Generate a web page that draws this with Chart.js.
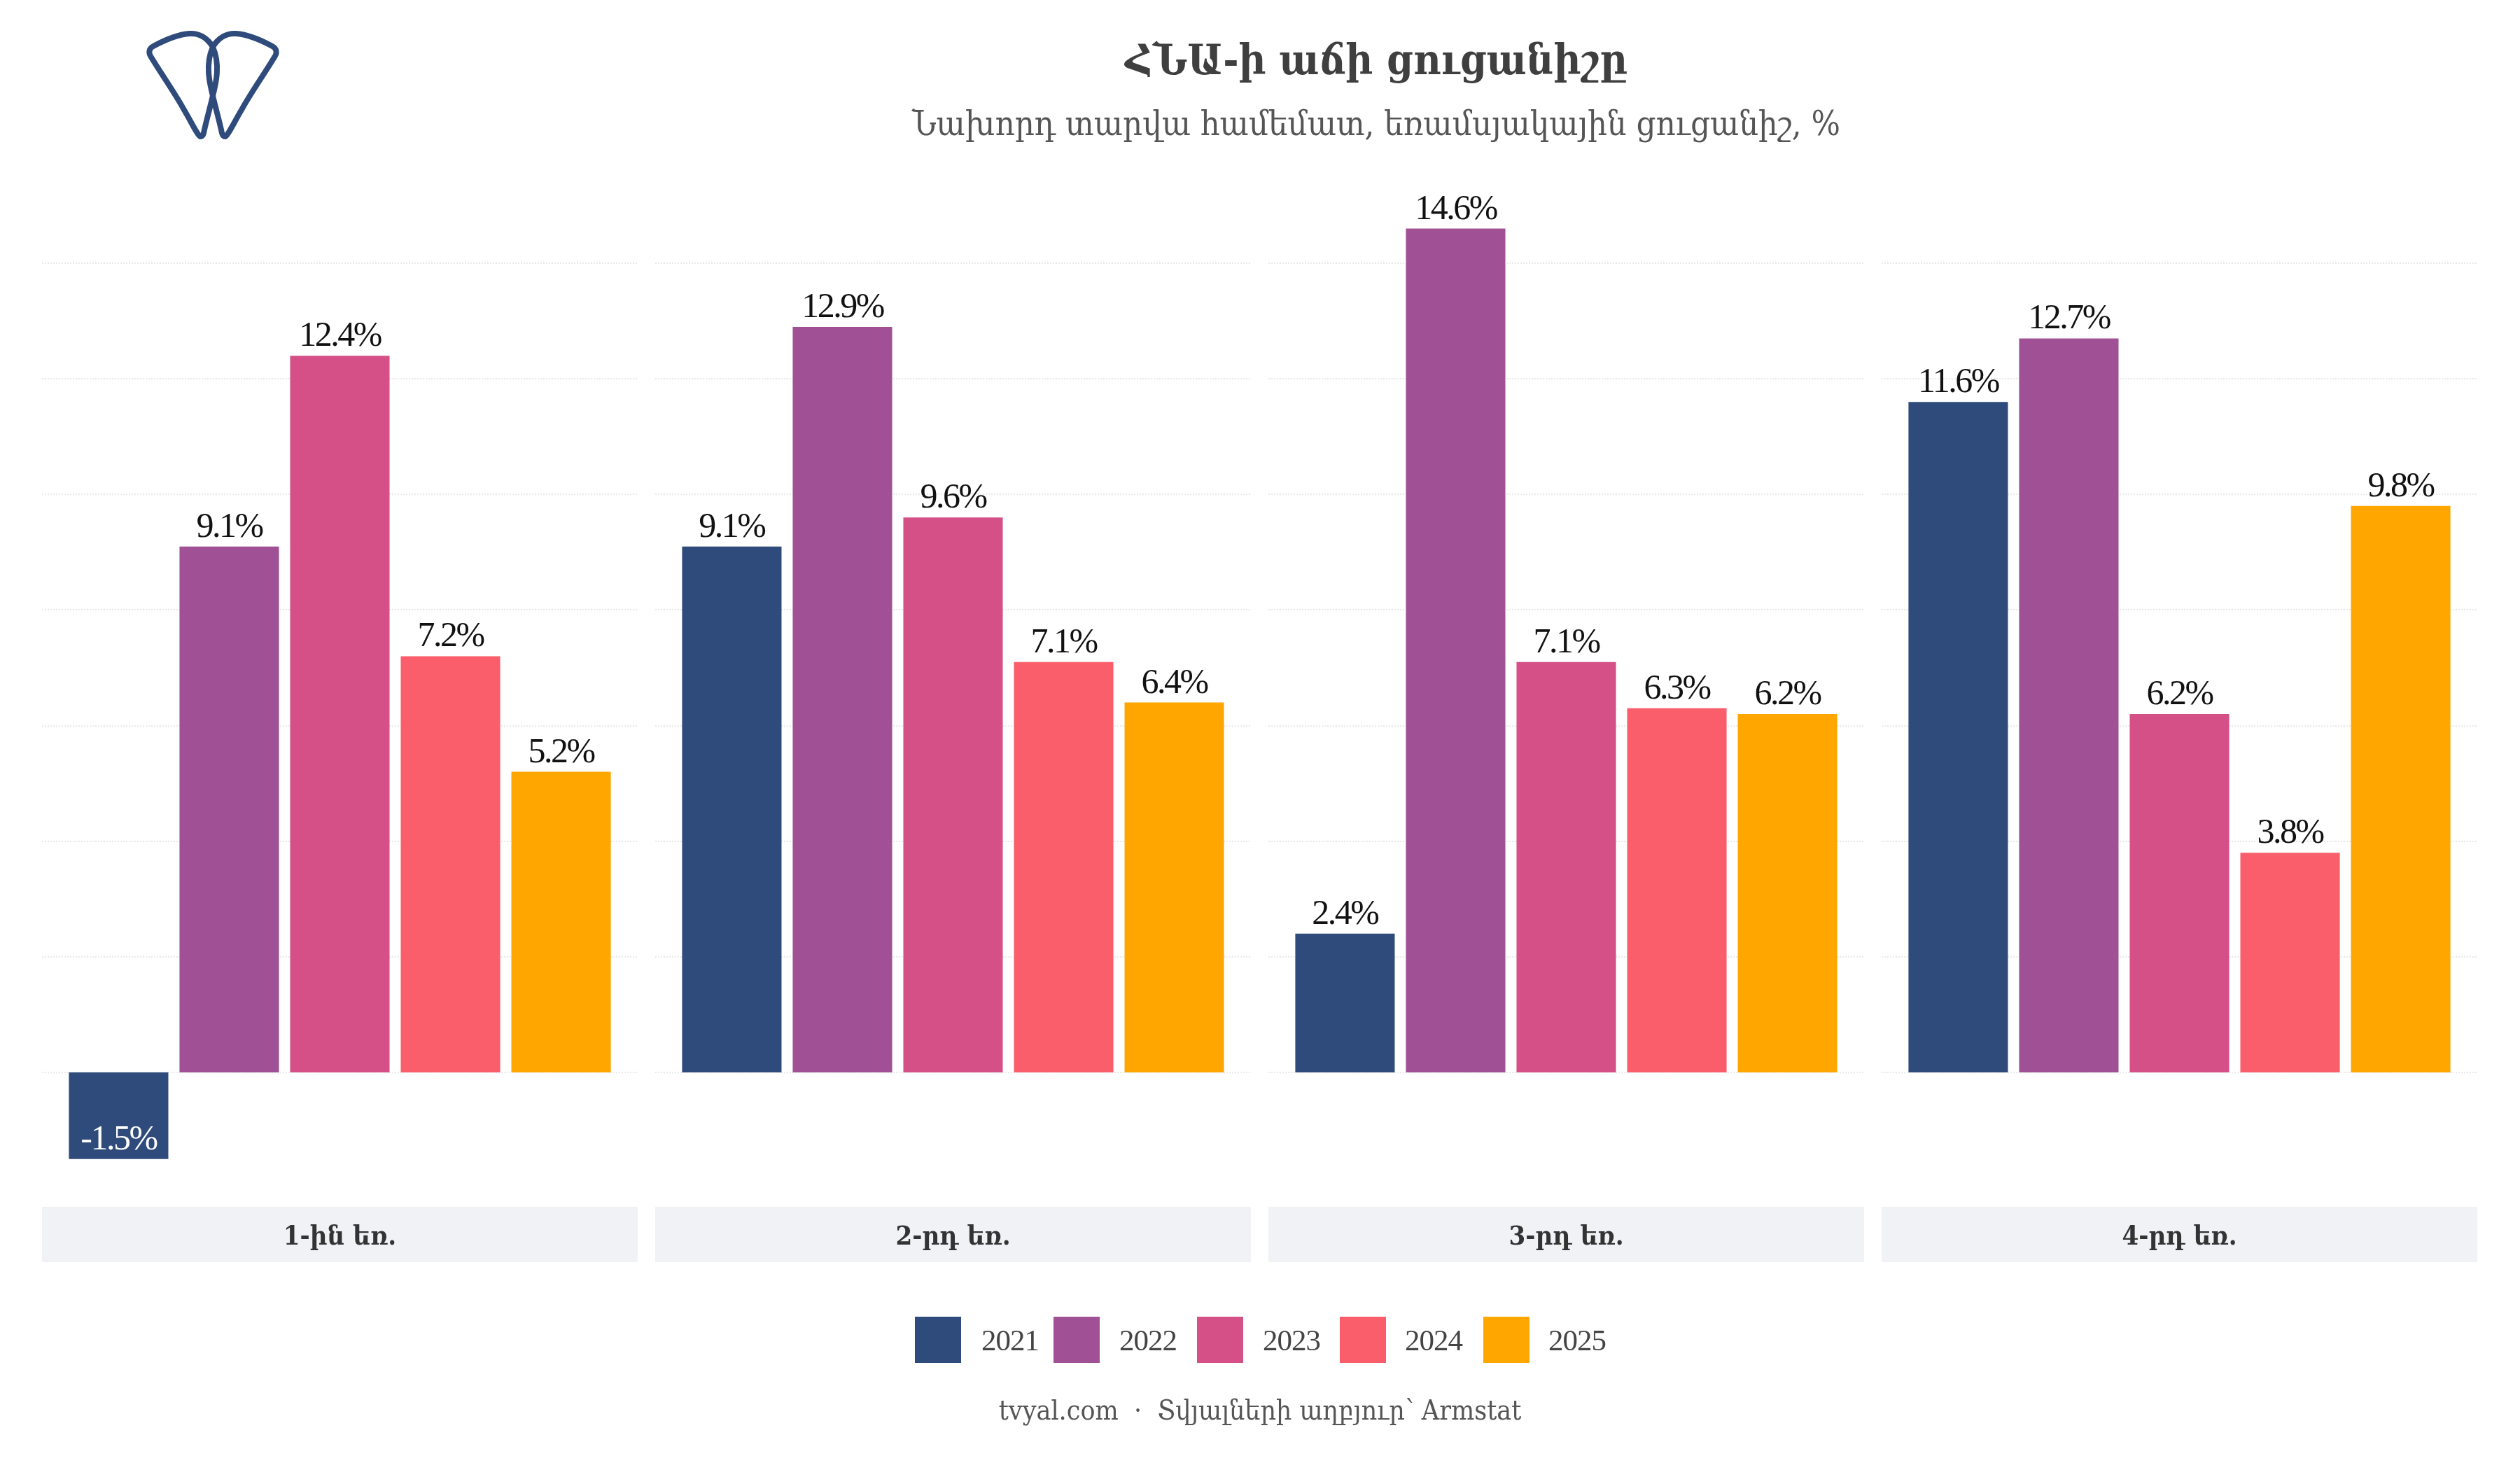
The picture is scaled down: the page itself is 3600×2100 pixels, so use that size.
<!DOCTYPE html>
<html>
<head>
<meta charset="utf-8">
<style>
  html, body { margin: 0; padding: 0; background: #fff; }
  #wrap { position: relative; width: 3600px; height: 2100px; }
  canvas { position: absolute; left: 0; top: 0; }
</style>
</head>
<body>
<div id="wrap"><canvas id="chart" width="3600" height="2100"></canvas></div>
<script src="https://cdn.jsdelivr.net/npm/chart.js@4"></script>
<script>
const quarters = ['1-ին եռ.', '2-րդ եռ.', '3-րդ եռ.', '4-րդ եռ.'];
const years = ['2021', '2022', '2023', '2024', '2025'];
const colors = ['#2f4b7c', '#a05195', '#d45087', '#fb5e6b', '#ffa600'];
const v2021 = [-1.5, 9.1, 2.4, 11.6];
const v2022 = [9.1, 12.9, 14.6, 12.7];
const v2023 = [12.4, 9.6, 7.1, 6.2];
const v2024 = [7.2, 7.1, 6.3, 3.8];
const v2025 = [5.2, 6.4, 6.2, 9.8];
const gridTicks = [0, 2, 4, 6, 8, 10, 12, 14];
const titleText = 'ՀՆԱ-ի աճի ցուցանիշը';
const subtitleText = 'Նախորդ տարվա համեմատ, եռամսյակային ցուցանիշ, %';
const captionText = 'tvyal.com  ·  Տվյալների աղբյուր՝ Armstat';

const serif = '"DejaVu Serif Condensed", "DejaVu Serif", serif';
const numFont = '"Liberation Serif", serif';
const series = [v2021, v2022, v2023, v2024, v2025];

// one dataset per year, with the quarter panels as the category axis
const datasets = years.map((y, i) => ({
  label: y,
  data: series[i],
  backgroundColor: colors[i],
  borderWidth: 0,
  categoryPercentage: 0.902,
  barPercentage: 0.899
}));

// horizontal extent of a quarter panel, taken from the category scale
function panelBounds(x, i) {
  const step = x.width / quarters.length;
  return { left: x.left + step * i + 12.5, right: x.left + step * (i + 1) - 12.5 };
}

const gridPlugin = {
  id: 'panelGrid',
  beforeDatasetsDraw(chart) {
    const { ctx, scales } = chart;
    ctx.save();
    ctx.strokeStyle = '#e8e8e8';
    ctx.lineWidth = 2;
    ctx.setLineDash([2, 2]);
    quarters.forEach((q, i) => {
      const p = panelBounds(scales.x, i);
      gridTicks.forEach(t => {
        const py = Math.round(scales.y.getPixelForValue(t));
        ctx.beginPath();
        ctx.moveTo(p.left, py);
        ctx.lineTo(p.right, py);
        ctx.stroke();
      });
    });
    ctx.restore();
  }
};

const labelsPlugin = {
  id: 'barLabels',
  afterDatasetsDraw(chart) {
    const { ctx } = chart;
    ctx.save();
    ctx.font = '50px ' + numFont;
    ctx.letterSpacing = '-2.5px';
    ctx.textAlign = 'center';
    ctx.textBaseline = 'alphabetic';
    chart.data.datasets.forEach((ds, i) => {
      chart.getDatasetMeta(i).data.forEach((bar, j) => {
        const v = ds.data[j];
        // negative bars carry their label inside, near the lower end
        ctx.fillStyle = v < 0 ? '#fff' : '#111';
        ctx.fillText(v.toFixed(1) + '%', bar.x, bar.y - 14);
      });
    });
    ctx.restore();
  }
};

function drawPetal(ctx) {
  ctx.beginPath();
  ctx.moveTo(304, 67);
  ctx.bezierCurveTo(296, 54, 284, 47, 271, 48);
  ctx.bezierCurveTo(253, 49, 232, 59, 219, 66);
  ctx.bezierCurveTo(213, 69, 212, 75, 215, 80);
  ctx.bezierCurveTo(228, 102, 250, 133, 263, 157);
  ctx.bezierCurveTo(272, 172, 279, 187, 284, 193);
  ctx.bezierCurveTo(287, 197, 290, 194, 291, 190);
  ctx.bezierCurveTo(294, 175, 299, 158, 303, 141);
  ctx.bezierCurveTo(309, 118, 315, 92, 304, 67);
  ctx.stroke();
}

const framePlugin = {
  id: 'frame',
  beforeDraw(chart) {
    const { ctx, scales } = chart;
    ctx.save();
    // strip header under each panel
    quarters.forEach((q, i) => {
      const p = panelBounds(scales.x, i);
      ctx.fillStyle = '#f1f2f6';
      ctx.fillRect(p.left, 1724, p.right - p.left, 79);
      ctx.fillStyle = '#333';
      ctx.font = 'bold 38px ' + serif;
      ctx.textAlign = 'center';
      ctx.textBaseline = 'alphabetic';
      ctx.fillText(q, (p.left + p.right) / 2, 1778);
    });
    ctx.restore();
  },
  afterDraw(chart) {
    const { ctx } = chart;
    ctx.save();
    // titles
    ctx.textAlign = 'center';
    ctx.textBaseline = 'alphabetic';
    ctx.fillStyle = '#3f3f3f';
    ctx.font = 'bold 60px ' + serif;
    ctx.fillText(titleText, 1966, 106);
    ctx.font = '48.5px ' + serif;
    ctx.fillStyle = '#555';
    ctx.fillText(subtitleText, 1966, 193);
    // legend
    const legendX = [1307, 1505, 1710, 1914, 2119];
    const legendTextX = [1402, 1599, 1804, 2007, 2212];
    years.forEach((yr, i) => {
      ctx.fillStyle = colors[i];
      ctx.fillRect(legendX[i], 1881, 66, 66);
      ctx.fillStyle = '#444';
      ctx.font = '43px ' + numFont;
      ctx.letterSpacing = '-1px';
      ctx.textAlign = 'left';
      ctx.fillText(yr, legendTextX[i], 1929);
      ctx.letterSpacing = '0px';
    });
    // caption
    ctx.font = '39px ' + serif;
    ctx.fillStyle = '#555';
    ctx.textAlign = 'center';
    ctx.fillText(captionText, 1800, 2028);
    // logo, two mirrored petals
    ctx.strokeStyle = '#2f4b7c';
    ctx.lineWidth = 8;
    ctx.lineJoin = 'round';
    drawPetal(ctx);
    ctx.translate(608, 0);
    ctx.scale(-1, 1);
    drawPetal(ctx);
    ctx.restore();
  }
};

new Chart(document.getElementById('chart'), {
  type: 'bar',
  data: { labels: quarters, datasets },
  plugins: [framePlugin, gridPlugin, labelsPlugin],
  options: {
    responsive: false,
    animation: false,
    layout: { padding: { left: 47.5, right: 48.5, top: 211, bottom: 403 } },
    plugins: { legend: { display: false }, tooltip: { enabled: false } },
    scales: {
      x: { display: false },
      y: { display: false, min: -2, max: 16 }
    }
  }
});
</script>
</body>
</html>
